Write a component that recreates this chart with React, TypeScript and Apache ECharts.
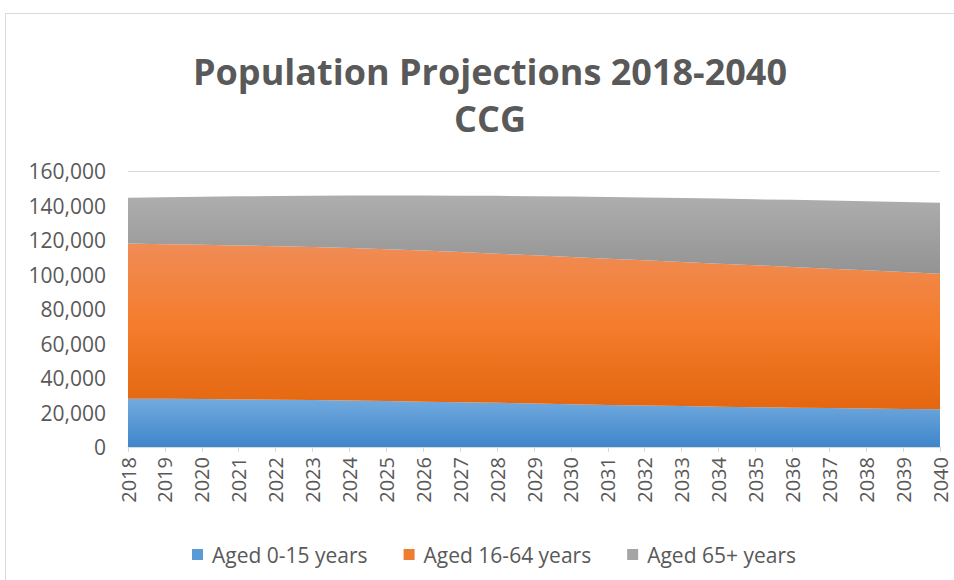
import React, { useEffect, useRef } from "react";
import * as echarts from "echarts";

const years = [
  "2018", "2019", "2020", "2021", "2022", "2023", "2024", "2025", "2026", "2027", "2028", "2029",
  "2030", "2031", "2032", "2033", "2034", "2035", "2036", "2037", "2038", "2039", "2040",
];

const aged0to15 = [
  27900, 27900, 27800, 27600, 27400, 27200, 26900, 26600, 26300, 25900, 25600, 25200,
  24800, 24400, 24000, 23700, 23400, 23100, 22800, 22600, 22300, 22100, 21900,
];

const aged16to64 = [
  90000, 89700, 89400, 89200, 89000, 88800, 88500, 88100, 87600, 87100, 86500, 85900,
  85300, 84800, 84200, 83600, 82900, 82300, 81600, 80800, 80100, 79400, 78600,
];

const aged65plus = [
  26600, 27200, 27900, 28500, 29100, 29700, 30400, 31100, 31900, 32700, 33500, 34300,
  35100, 35700, 36400, 37000, 37700, 38200, 38900, 39500, 40100, 40600, 41100,
];

const seriesNames = ["Aged 0-15 years", "Aged 16-64 years", "Aged 65+ years"];
const titleLines = ["Population Projections 2018-2040", "CCG"];

const FONT = "'Open Sans', 'Noto Sans', sans-serif";
const TEXT = "#595959";

function grad(top: string, bottom: string, mid?: string) {
  const stops = mid
    ? [
        { offset: 0, color: top },
        { offset: 0.5, color: mid },
        { offset: 1, color: bottom },
      ]
    : [
        { offset: 0, color: top },
        { offset: 1, color: bottom },
      ];
  return new echarts.graphic.LinearGradient(0, 0, 0, 1, stops);
}

export default function App() {
  const ref = useRef<HTMLDivElement>(null);

  useEffect(() => {
    if (!ref.current) return;
    const chart = echarts.init(ref.current, undefined, { renderer: "svg" });

    const mk = (name: string, data: number[], solid: string, fill: any) => ({
      name,
      type: "line",
      stack: "total",
      data,
      showSymbol: false,
      symbol: "none",
      lineStyle: { width: 0 },
      itemStyle: { color: solid },
      areaStyle: { color: fill, opacity: 1 },
      emphasis: { disabled: true },
    });

    const titleStyle = {
      fill: TEXT,
      fontSize: 36,
      fontWeight: "bold",
      fontFamily: FONT,
      align: "center",
      verticalAlign: "middle",
    };

    chart.setOption({
      animation: false,
      backgroundColor: "#ffffff",
      graphic: [
        {
          type: "rect",
          shape: { x: 5.5, y: 13.5, width: 1000, height: 700 },
          style: { fill: "none", stroke: "#d9d9d9", lineWidth: 1 },
          silent: true,
        },
        {
          type: "text",
          x: 490,
          y: 71,
          style: { ...titleStyle, text: titleLines[0] },
        },
        {
          type: "text",
          x: 490,
          y: 118,
          style: { ...titleStyle, text: titleLines[1] },
        },
      ],
      legend: {
        data: seriesNames,
        left: 187,
        top: 539,
        icon: "rect",
        itemWidth: 11,
        itemHeight: 11,
        itemGap: 36,
        selectedMode: false,
        textStyle: { color: TEXT, fontSize: 21, fontFamily: FONT, padding: [0, 0, 0, 4] },
      },
      grid: { left: 128, right: 14, top: 171, bottom: 133 },
      xAxis: {
        type: "category",
        data: years,
        boundaryGap: false,
        axisLine: { lineStyle: { color: "#d9d9d9", width: 1 } },
        axisTick: { show: true, length: 5, lineStyle: { color: "#d9d9d9" } },
        axisLabel: {
          rotate: 90,
          color: TEXT,
          fontSize: 20,
          fontFamily: FONT,
          margin: 10,
          interval: 0,
        },
        splitLine: { show: false },
      },
      yAxis: {
        type: "value",
        min: 0,
        max: 160000,
        interval: 20000,
        axisLine: { show: false },
        axisTick: { show: false },
        axisLabel: {
          color: TEXT,
          fontSize: 21,
          fontFamily: FONT,
          margin: 22,
          formatter: (v: number) => v.toLocaleString("en-US"),
        },
        splitLine: { show: true, lineStyle: { color: "#d9d9d9", width: 1 } },
      },
      series: [
        mk(seriesNames[0], aged0to15, "#5b9bd5", grad("#72aade", "#3f86cb")),
        mk(seriesNames[1], aged16to64, "#ed7d31", grad("#f08c56", "#e4660f", "#f47c2b")),
        mk(seriesNames[2], aged65plus, "#a5a5a5", grad("#aeaeae", "#939393")),
      ],
    });

    return () => chart.dispose();
  }, []);

  return (
    <div
      ref={ref}
      style={{ position: "fixed", left: 0, top: 0, width: 954, height: 580 }}
    />
  );
}
